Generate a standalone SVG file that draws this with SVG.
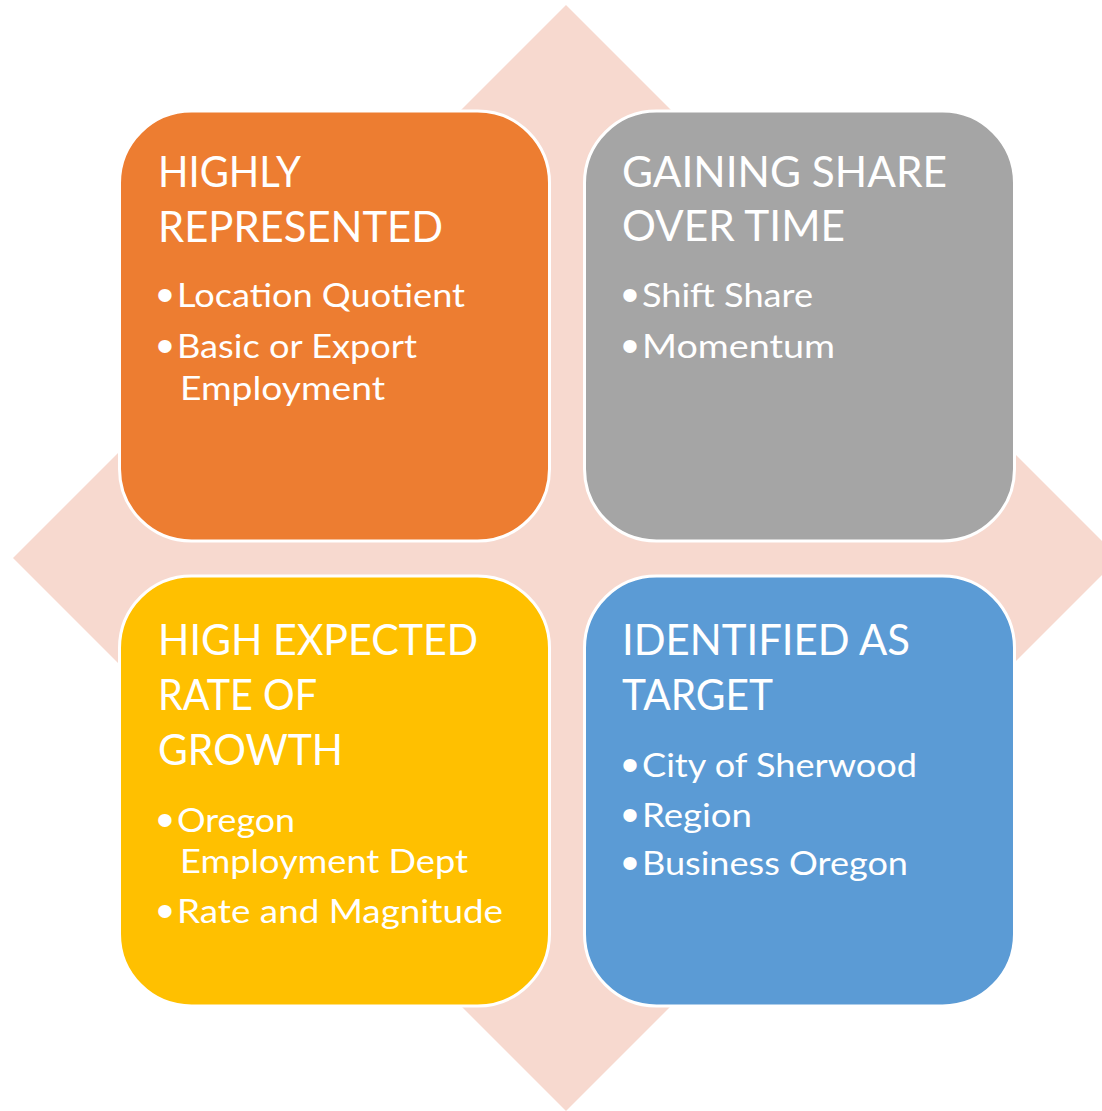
<svg xmlns="http://www.w3.org/2000/svg" width="1102" height="1111" viewBox="0 0 1102 1111">
  <style>
    .box { stroke: #FFFFFF; stroke-width: 3; }
    .title { font-family: Lato, "Open Sans", "Liberation Sans", sans-serif; font-size: 42px; fill: #FFFFFF; }
    .item { font-family: Lato, "Open Sans", "Liberation Sans", sans-serif; font-size: 32px; fill: #FFFFFF; }
    .dot { font-family: "Liberation Sans", sans-serif; font-size: 34px; fill: #FFFFFF; stroke: #FFFFFF; stroke-width: 4; stroke-linejoin: round; }
  </style>

  <!-- background diamond -->
  <polygon id="backdrop" points="566,5 1119,558 566,1111 13,558" fill="#F7D9CF"/>

  <!-- top-left quadrant -->
  <g id="highly-represented">
    <rect class="box" x="119.5" y="111" width="430" height="430" rx="72" ry="72" fill="#ED7D31"/>
    <text class="title" x="158" y="187" textLength="143" lengthAdjust="spacingAndGlyphs">HIGHLY</text>
    <text class="title" x="158" y="242" textLength="285" lengthAdjust="spacingAndGlyphs">REPRESENTED</text>
    <text class="dot" x="159" y="307">•</text>
    <text class="item" x="177" y="307" textLength="288" lengthAdjust="spacingAndGlyphs">Location Quotient</text>
    <text class="dot" x="159" y="358">•</text>
    <text class="item" x="177" y="358" textLength="240" lengthAdjust="spacingAndGlyphs">Basic or Export</text>
    <text class="item" x="180" y="400" textLength="205" lengthAdjust="spacingAndGlyphs">Employment</text>
  </g>

  <!-- top-right quadrant -->
  <g id="gaining-share">
    <rect class="box" x="584.5" y="111" width="430" height="430" rx="72" ry="72" fill="#A5A5A5"/>
    <text class="title" x="622" y="187" textLength="325" lengthAdjust="spacingAndGlyphs">GAINING SHARE</text>
    <text class="title" x="622" y="241" textLength="223" lengthAdjust="spacingAndGlyphs">OVER TIME</text>
    <text class="dot" x="624" y="307">•</text>
    <text class="item" x="642" y="307" textLength="171" lengthAdjust="spacingAndGlyphs">Shift Share</text>
    <text class="dot" x="624" y="358">•</text>
    <text class="item" x="642" y="358" textLength="193" lengthAdjust="spacingAndGlyphs">Momentum</text>
  </g>

  <!-- bottom-left quadrant -->
  <g id="high-expected-growth">
    <rect class="box" x="119.5" y="576" width="430" height="430" rx="72" ry="72" fill="#FFC000"/>
    <text class="title" x="158" y="655" textLength="320" lengthAdjust="spacingAndGlyphs">HIGH EXPECTED</text>
    <text class="title" x="158" y="710" textLength="159" lengthAdjust="spacingAndGlyphs">RATE OF</text>
    <text class="title" x="158" y="765" textLength="185" lengthAdjust="spacingAndGlyphs">GROWTH</text>
    <text class="dot" x="159" y="832">•</text>
    <text class="item" x="177" y="832" textLength="118" lengthAdjust="spacingAndGlyphs">Oregon</text>
    <text class="item" x="180" y="873" textLength="288" lengthAdjust="spacingAndGlyphs">Employment Dept</text>
    <text class="dot" x="159" y="923">•</text>
    <text class="item" x="177" y="923" textLength="326" lengthAdjust="spacingAndGlyphs">Rate and Magnitude</text>
  </g>

  <!-- bottom-right quadrant -->
  <g id="identified-target">
    <rect class="box" x="584.5" y="576" width="430" height="430" rx="72" ry="72" fill="#5B9BD5"/>
    <text class="title" x="622" y="655" textLength="288" lengthAdjust="spacingAndGlyphs">IDENTIFIED AS</text>
    <text class="title" x="622" y="710" textLength="151" lengthAdjust="spacingAndGlyphs">TARGET</text>
    <text class="dot" x="624" y="777">•</text>
    <text class="item" x="642" y="777" textLength="275" lengthAdjust="spacingAndGlyphs">City of Sherwood</text>
    <text class="dot" x="624" y="827">•</text>
    <text class="item" x="642" y="827" textLength="110" lengthAdjust="spacingAndGlyphs">Region</text>
    <text class="dot" x="624" y="875">•</text>
    <text class="item" x="642" y="875" textLength="266" lengthAdjust="spacingAndGlyphs">Business Oregon</text>
  </g>

  <!-- no connectors in this layout -->
  <g id="connectors"/>
</svg>
